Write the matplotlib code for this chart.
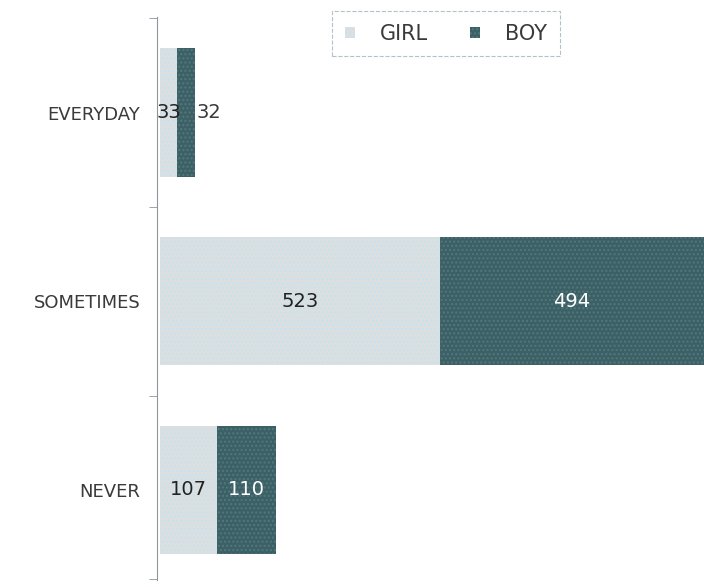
import matplotlib.pyplot as plt
import numpy as np

categories = ["EVERYDAY", "SOMETIMES", "NEVER"]
girl = [33, 523, 107]
boy = [32, 494, 110]

girl_color = "#dcdfe0"
boy_color = "#3b6166"
text_color = "#3a3a3a"

fig = plt.figure(figsize=(7.04, 5.87), dpi=100)
ax = fig.add_axes([0.227, 0.012, 0.773, 0.959])

y = np.arange(len(categories))
bar_h = 0.68

gb = ax.barh(y, girl, height=bar_h, color=girl_color, hatch="....",
             edgecolor="#c6e2f0", linewidth=0, label="GIRL")
bb = ax.barh(y, boy, left=girl, height=bar_h, color=boy_color, hatch="....",
             edgecolor="#55777b", linewidth=0, label="BOY")

# value labels
for i in range(len(categories)):
    ax.text(girl[i] / 2, y[i], str(girl[i]), ha="center", va="center",
            fontsize=14, color="#222222")
    if boy[i] < 50:
        ax.text(girl[i] + boy[i] + 3, y[i], str(boy[i]), ha="left", va="center",
                fontsize=14, color=text_color)
    else:
        ax.text(girl[i] + boy[i] / 2, y[i], str(boy[i]), ha="center", va="center",
                fontsize=14, color="white")

ax.set_xlim(0, 1017)
ax.set_ylim(2.477, -0.506)
ax.set_yticks(y)
ax.set_yticklabels(categories)
ax.set_yticks([-0.5, 0.5, 1.5, 2.47], minor=True)
ax.tick_params(axis="y", which="major", length=0, pad=12,
               labelsize=13, labelcolor=text_color)
ax.tick_params(axis="y", which="minor", length=6, color="#8a9699")
ax.set_xticks([])

for s in ["top", "right", "bottom"]:
    ax.spines[s].set_visible(False)
ax.spines["left"].set_color("#8a9699")
ax.spines["left"].set_position(("outward", 2))

leg = ax.legend(loc="upper center", bbox_to_anchor=(0.526, 1.01), ncol=2,
                fontsize=15, frameon=True, fancybox=False, handlelength=0.5,
                handleheight=0.5, columnspacing=2.0, handletextpad=1.2,
                borderpad=0.6, borderaxespad=0)
leg.get_frame().set_edgecolor("#9fb3bb")
leg.get_frame().set_linestyle("--")
leg.get_frame().set_linewidth(0.8)
for t in leg.get_texts():
    t.set_color(text_color)

fig.savefig("out.png", dpi=100)
